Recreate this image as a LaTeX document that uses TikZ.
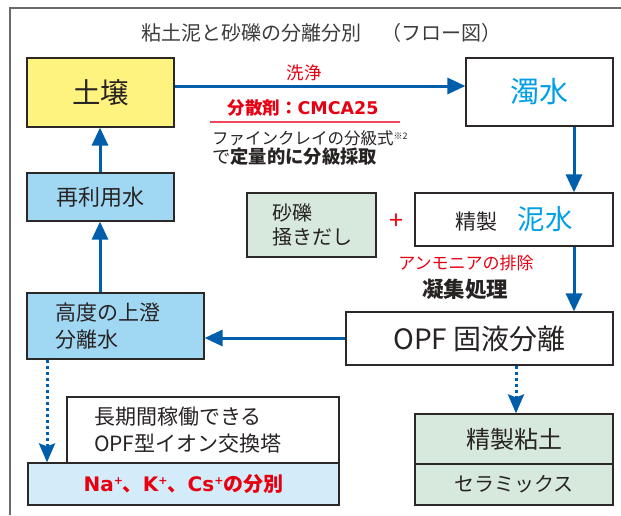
\documentclass[tikz,border=0pt]{standalone}
\usepackage{fontspec}
\setmainfont{Noto Sans CJK JP}
\newfontfamily\latb{DejaVu Sans}
\usetikzlibrary{arrows.meta}
\definecolor{arrblue}{RGB}{0,94,170}
\definecolor{cyantxt}{RGB}{0,160,230}
\definecolor{yellowc}{RGB}{255,243,128}
\definecolor{lblue}{RGB}{160,216,243}
\definecolor{pblue}{RGB}{212,236,249}
\definecolor{lgreen}{RGB}{214,233,220}
\definecolor{redc}{RGB}{230,0,18}
\definecolor{pinkline}{RGB}{238,70,90}
\definecolor{boxline}{RGB}{45,40,40}
\definecolor{txt}{RGB}{40,35,35}
\definecolor{frame}{RGB}{110,105,100}
\definecolor{titlec}{RGB}{60,60,60}
\newcommand\fsz[2]{\fontsize{#1}{#2}\selectfont}
\newcommand\supp{\raisebox{7pt}{\fsz{11}{12}\latb\bfseries +}}
\begin{document}
\begin{tikzpicture}[x=1pt,y=-1pt,
  box/.style={draw=boxline, line width=1.2pt, inner sep=0pt, text=txt},
  arr/.style={draw=arrblue, line width=3pt, -{Triangle[length=18pt,width=16pt]}},
  darr/.style={draw=arrblue, line width=3pt, dash pattern=on 3pt off 3pt, -{Stealth[length=19pt,width=16pt,inset=3pt]}},
  lbl/.style={inner sep=0pt, anchor=center}]
\useasboundingbox (0,0) rectangle (621,515);
% frame
\draw[frame, line width=2pt] (10,515) -- (10,8) -- (621,8);
% title
\node[lbl, text=titlec, font=\fsz{20}{22}] (title) at (321,33) {粘土泥と砂礫の分離分別　（フロー図）};
% boxes
\node[box, fill=yellowc, minimum width=147pt, minimum height=69pt, font=\fsz{28.5}{32}] (tudo) at (100.5,92.5) {土壌};
\node[box, fill=white, minimum width=147pt, minimum height=68pt, text=cyantxt, font=\fsz{29}{32}] (dakusui) at (539.5,92) {濁水};
\node[box, fill=lblue, minimum width=147pt, minimum height=48pt, font=\fsz{22}{26}] (saiyou) at (100.5,197) {再利用水};
\node[box, fill=lgreen, minimum height=64pt, inner xsep=25pt, text width=79pt, align=left, font=\fsz{20}{24}] (sareki) at (311.5,225) {砂礫\\掻きだし};
\node[lbl, text=redc, font=\fsz{25}{26}] (plus) at (396,222) {+};
\node[box, fill=white, minimum width=198pt, minimum height=53pt, font=\fsz{21}{26}] (deisui) at (514,219.5) {精製\hspace{20pt}{\fsz{27.5}{30}\color{cyantxt}泥水}};
\node[box, fill=white, minimum width=267pt, minimum height=53pt, font=\fsz{28}{30}] (opf) at (479.5,338.5) {OPF 固液分離};
\node[box, fill=lblue, minimum height=66pt, inner xsep=28pt, text width=121pt, align=left, font=\fsz{21}{27}] (koudo) at (115.5,326) {高度の上澄\\分離水};
\node[box, fill=white, minimum height=66pt, inner xsep=27pt, text width=218pt, align=left, font=\fsz{21}{27}] (chouki) at (203,430) {長期間稼働できる\\OPF型イオン交換塔};
\node[box, fill=pblue, minimum width=311pt, minimum height=42pt, text=redc, font=\fsz{20}{22}\bfseries] (na) at (183.5,484) {{\latb Na}\supp 、{\latb K}\supp 、{\latb Cs}\supp の分別};
\node[box, fill=lgreen, minimum width=198pt, minimum height=50pt, font=\fsz{24}{26}] (nendo) at (514,439) {精製粘土};
\node[box, fill=lgreen, minimum width=198pt, minimum height=41pt, font=\fsz{20}{22}] (cera) at (514,484.5) {セラミックス};
% labels
\node[lbl, text=redc, font=\fsz{17.5}{19}] (senjo) at (304,73) {洗浄};
\node[lbl, text=redc, font=\fsz{17.5}{19}\bfseries] (bunsan) at (303,108) {分散剤：{\latb CMCA25}};
\coordinate (ul1) at (210,122);
\coordinate (ul2) at (400,122);
\draw[pinkline, line width=1.6pt] (ul1) -- (ul2);
\node[lbl, anchor=west, text=txt, font=\fsz{16.5}{19}] (fine) at (212,138) {ファインクレイの分級式\raisebox{5pt}{\fsz{9}{10}※2}};
\node[lbl, anchor=west, text=txt, font=\fsz{18.3}{20}] (teiryou) at (212,157) {で\bfseries 定量的に分級採取};
\node[lbl, text=redc, font=\fsz{17}{20}] (ammo) at (466,263) {アンモニアの排除};
\node[lbl, text=txt, font=\fsz{21.5}{24}\bfseries] (gyoshu) at (465,289) {凝集処理};
% arrows
\coordinate (xr) at (574,0);
\coordinate (xl) at (100,0);
\coordinate (yt) at (0,86);
\coordinate (ym) at (0,338);
\coordinate (xd1) at (47,0);
\coordinate (xd2) at (516,0);
\draw[arr] (tudo.east |- yt) -- (dakusui.west |- yt);
\draw[arr] (dakusui.south -| xr) -- (deisui.north -| xr);
\draw[arr] (deisui.south -| xr) -- (opf.north -| xr);
\draw[arr] (opf.west |- ym) -- (koudo.east |- ym);
\draw[arr] (koudo.north -| xl) -- (saiyou.south -| xl);
\draw[arr] (saiyou.north -| xl) -- (tudo.south -| xl);
\draw[darr] (koudo.south -| xd1) -- (na.north -| xd1);
\draw[darr] (opf.south -| xd2) -- (nendo.north -| xd2);
\end{tikzpicture}
\end{document}
